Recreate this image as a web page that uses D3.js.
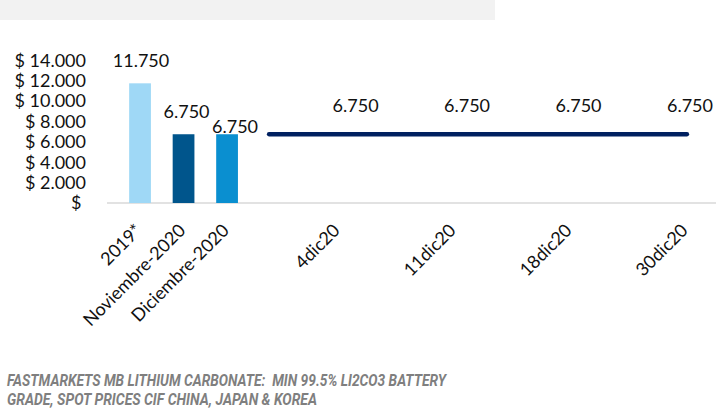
<!DOCTYPE html>
<meta charset="utf-8">
<style>
body { margin: 0; background: #fff; }
svg text { font-family: Lato, "Open Sans", sans-serif; fill: #111; }
.nota { font-family: Roboto, sans-serif; font-weight: 700; font-style: italic; fill: #7f7f7f; white-space: pre; }
</style>
<svg width="716" height="410"></svg>
<script src="https://cdnjs.cloudflare.com/ajax/libs/d3/7.8.5/d3.min.js"></script>
<script>
// datos
var barCats = ["2019*", "Noviembre-2020", "Diciembre-2020"];
var barVals = [11750, 6750, 6750];
var barColors = ["#9fd8f6", "#00558c", "#0a8fd0"];
var lineCats = ["4dic20", "11dic20", "18dic20", "30dic20"];
var lineVals = [6750, 6750, 6750, 6750];
var yTicks = [0, 2000, 4000, 6000, 8000, 10000, 12000, 14000];
var nota = ["FASTMARKETS MB LITHIUM CARBONATE:  MIN 99.5% LI2CO3 BATTERY",
            "GRADE, SPOT PRICES CIF CHINA, JAPAN & KOREA"];

// ajuste manual de etiquetas (como en el excel)
var barLabelDx = [1, 3, 8], barLabelDy = [23, 23, 8];

var svg = d3.select("svg");
var fmt = d3.formatLocale({decimal: ",", thousands: ".", grouping: [3], currency: ["$ ", ""]});
var num = fmt.format(",d"), money = fmt.format("$,d");

// banda gris de arriba
svg.append("rect").attr("x", 0).attr("y", 0).attr("width", 495).attr("height", 20).attr("fill", "#f2f2f2");

var y = d3.scaleLinear().domain([0, 14000]).range([203, 60.4]);
var xb = d3.scaleBand().domain(barCats).range([107.4, 259.7]).padding(0.5);
var xl = d3.scaleLinear().domain([-0.75, lineCats.length - 1]).range([269, 687]);
// eje de categorias del grafico de linea
var xlt = d3.scalePoint().domain(lineCats).range([341, 689]);

// eje y
svg.append("g").selectAll("text").data(yTicks).enter().append("text")
    .attr("x", 86).attr("y", d => y(d)).attr("dy", "0.35em")
    .attr("text-anchor", "end").style("font-size", "18px")
    .text(d => d === 0 ? "$\u00a0" : money(d));

// linea base
svg.append("line").attr("x1", 107).attr("x2", 716).attr("y1", y(0)).attr("y2", y(0))
    .attr("stroke", "#d9d9d9").attr("stroke-width", 1.5);

// barras
svg.append("g").selectAll("rect").data(barVals).enter().append("rect")
    .attr("x", (d, i) => xb(barCats[i])).attr("width", xb.bandwidth())
    .attr("y", d => y(d)).attr("height", d => y(0) - y(d))
    .attr("fill", (d, i) => barColors[i]);

svg.append("g").selectAll("text").data(barVals).enter().append("text")
    .attr("x", (d, i) => xb(barCats[i]) + xb.bandwidth() / 2 + barLabelDx[i])
    .attr("y", (d, i) => y(d) - barLabelDy[i]).attr("dy", "0.35em")
    .attr("text-anchor", "middle").style("font-size", "18px")
    .text(d => num(d));

// linea
var pts = lineVals.map((v, i) => [xl(i), y(v)]);
pts.unshift([xl(-0.75), y(lineVals[0])]);
svg.append("path").attr("d", d3.line()(pts))
    .attr("fill", "none").attr("stroke", "#002060").attr("stroke-width", 4.3)
    .attr("stroke-linecap", "round");

svg.append("g").selectAll("text").data(lineVals).enter().append("text")
    .attr("x", (d, i) => xl(i) + 3).attr("y", d => y(d) - 29).attr("dy", "0.35em")
    .attr("text-anchor", "middle").style("font-size", "18px")
    .text(d => num(d));

// etiquetas eje x (rotadas)
var xlab = barCats.map(c => ({t: c, x: xb(c) + xb.bandwidth() / 2 + 3}))
    .concat(lineCats.map(c => ({t: c, x: xlt(c)})));
svg.append("g").selectAll("text").data(xlab).enter().append("text")
    .attr("transform", d => "translate(" + d.x + "," + (y(0) + 28.5) + ") rotate(-45)")
    .attr("text-anchor", "end").style("font-size", "18px")
    .text(d => d.t);

// nota al pie
svg.append("g").selectAll("text").data(nota).enter().append("text")
    .attr("class", "nota").attr("x", 7).attr("y", (d, i) => 386 + i * 19)
    .style("font-size", "17px")
    .attr("textLength", (d, i) => i === 0 ? 439 : 310).attr("lengthAdjust", "spacingAndGlyphs")
    .text(d => d);
</script>
